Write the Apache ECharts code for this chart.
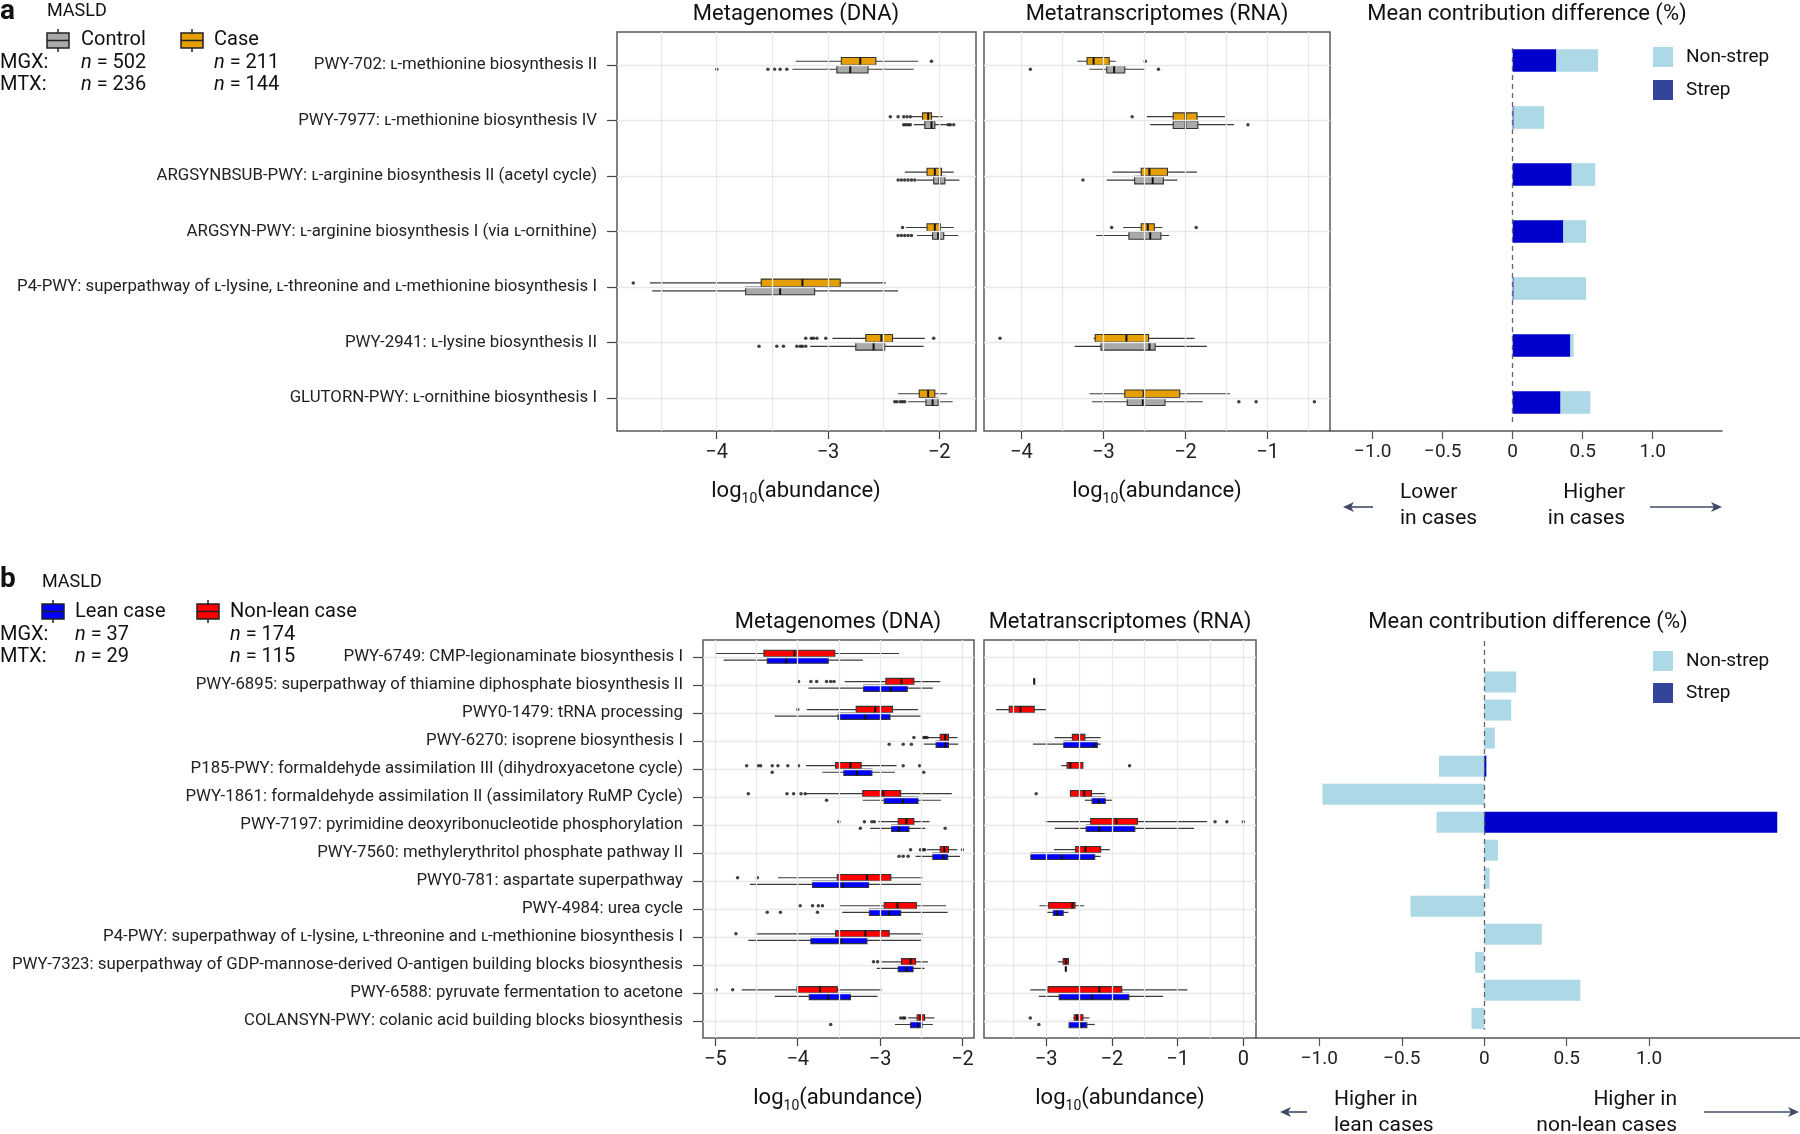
<!DOCTYPE html>
<html>
<head>
<meta charset="utf-8">
<script src="https://cdn.jsdelivr.net/npm/echarts@6/dist/echarts.min.js"></script>
<style>
  html, body { margin: 0; padding: 0; background: #fff; }
  #chart { width: 1800px; height: 1134px; }
</style>
</head>
<body>
<div id="chart"></div>
<script>
// ---- panel a : Control vs Case ----
var catA = [
  'PWY-702: L-methionine biosynthesis II',
  'PWY-7977: L-methionine biosynthesis IV',
  'ARGSYNBSUB-PWY: L-arginine biosynthesis II (acetyl cycle)',
  'ARGSYN-PWY: L-arginine biosynthesis I (via L-ornithine)',
  'P4-PWY: superpathway of L-lysine, L-threonine and L-methionine biosynthesis I',
  'PWY-2941: L-lysine biosynthesis II',
  'GLUTORN-PWY: L-ornithine biosynthesis I'
];
// [whisker low, Q1, median, Q3, whisker high] in log10(abundance)
var dnaCase = [
  [-3.29, -2.88, -2.71, -2.57, -2.19],
  [-2.25, -2.15, -2.10, -2.07, -1.97],
  [-2.31, -2.11, -2.04, -1.98, -1.87],
  [-2.30, -2.11, -2.04, -1.99, -1.87],
  [-4.60, -3.60, -3.23, -2.89, -2.48],
  [-2.96, -2.66, -2.52, -2.42, -2.13],
  [-2.37, -2.18, -2.10, -2.04, -1.93]
];
var dnaCaseOut = [
  [-2.07], [-2.44, -2.37, -2.32, -2.29, -2.26], [], [-2.33], [-4.75],
  [-3.20, -3.15, -3.13, -3.10, -3.02, -2.05], []
];
var dnaControl = [
  [-3.32, -2.92, -2.80, -2.64, -2.23],
  [-2.23, -2.13, -2.07, -2.04, -1.93],
  [-2.20, -2.05, -2.00, -1.95, -1.82],
  [-2.20, -2.06, -2.01, -1.96, -1.83],
  [-4.58, -3.74, -3.43, -3.12, -2.37],
  [-3.16, -2.75, -2.59, -2.49, -2.14],
  [-2.28, -2.12, -2.06, -2.01, -1.88]
];
var dnaControlOut = [
  [-4.00, -3.54, -3.48, -3.43, -3.37],
  [-2.32, -2.30, -2.28, -2.26, -1.92, -1.90, -1.87],
  [-2.37, -2.34, -2.31, -2.28, -2.25, -2.22],
  [-2.37, -2.34, -2.31, -2.28, -2.25],
  [],
  [-3.62, -3.46, -3.40, -3.28, -3.25, -3.23, -3.20],
  [-2.40, -2.38, -2.35, -2.33, -2.31]
];
var rnaCase = [
  [-3.32, -3.20, -3.12, -2.93, -2.85],
  [-2.47, -2.15, -2.00, -1.86, -1.52],
  [-2.89, -2.54, -2.44, -2.22, -1.86],
  [-2.76, -2.54, -2.46, -2.38, -2.28],
  null,
  [-3.12, -3.10, -2.72, -2.45, -1.89],
  [-3.17, -2.74, -2.51, -2.07, -1.46]
];
var rnaCaseOut = [[-2.49], [-2.65], [], [-2.90, -1.87], [], [-4.26], []];
var rnaControl = [
  [-3.17, -2.96, -2.87, -2.74, -2.49],
  [-2.43, -2.15, -2.00, -1.85, -1.41],
  [-2.96, -2.62, -2.40, -2.27, -2.10],
  [-3.09, -2.69, -2.43, -2.30, -2.20],
  null,
  [-3.35, -3.03, -2.44, -2.37, -1.74],
  [-3.14, -2.71, -2.52, -2.25, -1.79]
];
var rnaControlOut = [[-3.89, -2.33], [-1.24], [-3.25], [], [], [], [-1.35, -1.14, -0.43]];
// mean contribution difference (%)
var strepA = [0.31, 0.005, 0.42, 0.36, 0.005, 0.41, 0.34];
var nonStrepA = [0.30, 0.22, 0.17, 0.165, 0.52, 0.025, 0.215];

// ---- panel b : Lean vs Non-lean case ----
var catB = [
  'PWY-6749: CMP-legionaminate biosynthesis I',
  'PWY-6895: superpathway of thiamine diphosphate biosynthesis II',
  'PWY0-1479: tRNA processing',
  'PWY-6270: isoprene biosynthesis I',
  'P185-PWY: formaldehyde assimilation III (dihydroxyacetone cycle)',
  'PWY-1861: formaldehyde assimilation II (assimilatory RuMP Cycle)',
  'PWY-7197: pyrimidine deoxyribonucleotide phosphorylation',
  'PWY-7560: methylerythritol phosphate pathway II',
  'PWY0-781: aspartate superpathway',
  'PWY-4984: urea cycle',
  'P4-PWY: superpathway of L-lysine, L-threonine and L-methionine biosynthesis I',
  'PWY-7323: superpathway of GDP-mannose-derived O-antigen building blocks biosynthesis',
  'PWY-6588: pyruvate fermentation to acetone',
  'COLANSYN-PWY: colanic acid building blocks biosynthesis'
];
var dnaNonLean = [
  [-5.00, -4.41, -4.04, -3.55, -2.77],
  [-3.43, -2.93, -2.74, -2.59, -2.27],
  [-3.89, -3.29, -3.06, -2.85, -2.54],
  [-2.42, -2.27, -2.21, -2.17, -2.06],
  [-3.90, -3.54, -3.36, -3.23, -2.80],
  [-3.90, -3.21, -2.96, -2.75, -2.13],
  [-3.02, -2.78, -2.68, -2.59, -2.40],
  [-2.43, -2.27, -2.22, -2.17, -2.06],
  [-4.24, -3.52, -3.16, -2.87, -2.48],
  [-3.49, -2.95, -2.79, -2.56, -2.20],
  [-4.51, -3.54, -3.18, -2.89, -2.48],
  [-2.98, -2.74, -2.63, -2.57, -2.42],
  [-4.68, -4.01, -3.73, -3.52, -2.98],
  [-2.66, -2.55, -2.51, -2.46, -2.34]
];
var dnaNonLeanOut = [
  [], [-3.99, -3.84, -3.77, -3.65, -3.60, -3.56], [-4.00], [-2.59, -2.47, -2.45, -2.43],
  [-4.62, -4.48, -4.45, -4.31, -4.24, -4.12, -3.99, -2.72, -2.52],
  [-4.60, -4.13, -4.05, -3.96, -3.91], [-3.50, -3.19, -3.10, -3.07],
  [-2.63, -2.51, -2.48, -2.46, -2.00], [-4.73, -4.49], [-3.97, -3.82, -3.75, -3.70],
  [-4.75], [-3.08, -3.03], [-4.99, -4.79], [-2.75, -2.72, -2.70]
];
var dnaLean = [
  [-4.90, -4.37, -4.14, -3.63, -3.21],
  [-3.87, -3.20, -2.87, -2.67, -2.36],
  [-4.28, -3.51, -3.18, -2.88, -2.51],
  [-2.47, -2.32, -2.21, -2.17, -2.05],
  [-3.70, -3.44, -3.28, -3.10, -2.82],
  [-3.21, -2.95, -2.72, -2.54, -2.26],
  [-3.12, -2.86, -2.77, -2.65, -2.45],
  [-2.57, -2.36, -2.23, -2.18, -2.03],
  [-4.58, -3.82, -3.45, -3.14, -2.50],
  [-3.46, -3.13, -2.89, -2.75, -2.18],
  [-4.60, -3.84, -3.47, -3.16, -2.50],
  [-3.04, -2.78, -2.68, -2.60, -2.46],
  [-4.28, -3.86, -3.63, -3.36, -3.03],
  [-2.82, -2.63, -2.54, -2.49, -2.36]
];
var dnaLeanOut = [
  [], [], [], [-2.89, -2.72, -2.62], [-4.31, -2.47], [-3.65], [-3.24, -2.21],
  [-2.77, -2.72, -2.66], [], [-4.37, -4.21, -3.76], [], [], [], [-3.60]
];
var rnaNonLean = [
  null,
  [-3.18, -3.18, -3.18, -3.18, -3.18],
  [-3.76, -3.56, -3.39, -3.18, -3.00],
  [-2.87, -2.60, -2.50, -2.41, -2.17],
  [-2.77, -2.68, -2.63, -2.44, -2.44],
  [-2.63, -2.63, -2.42, -2.31, -2.11],
  [-3.01, -2.32, -1.93, -1.61, -0.55],
  [-2.88, -2.55, -2.40, -2.17, -2.03],
  null,
  [-3.10, -2.96, -2.60, -2.56, -2.42],
  null,
  [-2.82, -2.74, -2.70, -2.66, -2.66],
  [-3.24, -2.97, -2.19, -1.85, -0.85],
  [-2.59, -2.57, -2.53, -2.44, -2.34]
];
var rnaNonLeanOut = [[], [], [], [], [-1.73], [-3.15], [-0.43, -0.25, 0.0], [], [], [], [], [], [], [-3.24]];
var rnaLean = [
  null, null, null,
  [-3.20, -2.73, -2.27, -2.22, -2.17],
  null,
  [-2.41, -2.30, -2.20, -2.10, -1.99],
  [-2.87, -2.39, -2.19, -1.65, -0.75],
  [-3.24, -3.23, -2.76, -2.26, -2.17],
  null,
  [-2.98, -2.89, -2.83, -2.74, -2.66],
  null,
  [-2.70, -2.70, -2.70, -2.70, -2.70],
  [-3.11, -2.80, -2.30, -1.74, -1.22],
  [-2.65, -2.65, -2.46, -2.38, -2.26]
];
var rnaLeanOut = [[], [], [], [], [], [], [], [], [], [], [], [], [], [-3.11]];
var strepB = [0, 0, 0, 0, 0.013, 0, 1.777, 0, 0, 0, 0, 0, 0, 0];
var nonStrepB = [0, 0.194, 0.164, 0.064, -0.274, -0.981, -0.289, 0.083, 0.032, -0.447, 0.349, -0.055, 0.583, -0.077];

// axis ticks and grid lines
var ticksDnaA = [-4, -3, -2];
var ticksRnaA = [-4, -3, -2, -1];
var ticksDnaB = [-5, -4, -3, -2];
var ticksRnaB = [-3, -2, -1, 0];
var ticksBar = [-1, -0.5, 0, 0.5, 1];
var gridDnaA = [-4.5, -4, -3.5, -3, -2.5, -2];
var gridRnaA = [-4, -3.5, -3, -2.5, -2, -1.5, -1, -0.5];
var gridDnaB = [-5, -4.5, -4, -3.5, -3, -2.5, -2];
var gridRnaB = [-3.5, -3, -2.5, -2, -1.5, -1, -0.5, 0];

var FONT = 'Roboto, "Noto Sans", sans-serif';
var C_CONTROL = '#a9a9a9', C_CASE = '#e69f00', C_LEAN = '#0000ff', C_NONLEAN = '#ff0000';
var C_STREP = '#0000cd', C_STREP_KEY = '#33449a', C_NONSTREP = '#add8e6';

var rowsA = catA.map(function (d, i) { return i + 1; });
var rowsB = catB.map(function (d, i) { return i + 1; });

// L- prefix of amino acids is printed as a small capital
function fmtLabel(s) {
  return s.replace(/(^|[\s,(])L-/g, '$1\u029F-');
}
function minus(v) {
  return (v < 0 ? '\u2212' : '') + Math.abs(v);
}

var grids = [
  { left: 617, top: 32, width: 359, height: 399 },
  { left: 984, top: 32, width: 346, height: 399 },
  { left: 1330, top: 32, width: 392, height: 399 },
  { left: 703, top: 640, width: 271, height: 398 },
  { left: 984, top: 640, width: 272, height: 398 },
  { left: 1256, top: 640, width: 544, height: 398 }
];
grids.forEach(function (g, i) {
  g.show = (i % 3) !== 2;
  g.borderColor = '#5a5a5a';
  g.borderWidth = 1.5;
  g.backgroundColor = 'transparent';
});

function boxX(idx, min, max, ticks) {
  return {
    type: 'value', gridIndex: idx, min: min, max: max,
    axisLine: { show: false },
    splitLine: { show: false },
    axisTick: { show: true, customValues: ticks, length: 8, lineStyle: { color: '#444', width: 1.2 } },
    axisLabel: { customValues: ticks, formatter: minus, fontSize: 20, color: '#222', fontFamily: FONT, margin: 12 }
  };
}
function barX(idx, min, max) {
  return {
    type: 'value', gridIndex: idx, min: min, max: max,
    axisLine: { show: true, onZero: false, lineStyle: { color: '#555', width: 1.5 } },
    splitLine: { show: false },
    axisTick: { show: true, customValues: ticksBar, length: 8, lineStyle: { color: '#555', width: 1.2 } },
    axisLabel: {
      customValues: ticksBar, fontSize: 19, color: '#222', fontFamily: FONT, margin: 12,
      formatter: function (v) { return v === 0 ? '0' : (v < 0 ? '\u2212' : '') + Math.abs(v).toFixed(1); }
    }
  };
}
function plainY(idx, min, max) {
  return {
    type: 'value', gridIndex: idx, min: min, max: max, inverse: true,
    axisLine: { show: false }, axisTick: { show: false }, axisLabel: { show: false }, splitLine: { show: false }
  };
}
function labelY(idx, min, max, cats, rows) {
  return {
    type: 'value', gridIndex: idx, min: min, max: max, inverse: true,
    axisLine: { show: false }, splitLine: { show: false },
    axisTick: { show: true, customValues: rows, length: 10, lineStyle: { color: '#444', width: 1.2 } },
    axisLabel: {
      customValues: rows, margin: 20, fontSize: 16.8, color: '#222', fontFamily: FONT,
      formatter: function (v) { return fmtLabel(cats[v - 1]); }
    }
  };
}

function gridSeries(idx, xs, rows) {
  var lines = xs.map(function (v) { return { xAxis: v }; })
    .concat(rows.map(function (r) { return { yAxis: r }; }));
  return {
    type: 'scatter', xAxisIndex: idx, yAxisIndex: idx, data: [], silent: true, z: 1,
    markLine: {
      silent: true, symbol: ['none', 'none'], label: { show: false }, animation: false,
      lineStyle: { color: '#e8e8e8', width: 1.3, type: 'solid' },
      data: lines
    }
  };
}

function boxSeries(idx, stats, color, dy, hh) {
  var data = [];
  stats.forEach(function (d, i) { if (d) data.push([i + 1].concat(d)); });
  return {
    type: 'custom', xAxisIndex: idx, yAxisIndex: idx, z: 3, silent: true,
    data: data,
    encode: { x: [1, 2, 3, 4, 5], y: 0 },
    renderItem: function (params, api) {
      var row = api.value(0);
      var lo = api.coord([api.value(1), row]);
      var q1 = api.coord([api.value(2), row]);
      var md = api.coord([api.value(3), row]);
      var q3 = api.coord([api.value(4), row]);
      var hi = api.coord([api.value(5), row]);
      var y = lo[1] + dy;
      return {
        type: 'group',
        children: [
          { type: 'line', shape: { x1: lo[0], y1: y, x2: hi[0], y2: y }, style: { stroke: '#3a3a3a', lineWidth: 1.2 } },
          { type: 'rect', shape: { x: q1[0], y: y - hh, width: q3[0] - q1[0], height: 2 * hh },
            style: { fill: color, stroke: '#333', lineWidth: 1.1 } },
          { type: 'line', shape: { x1: md[0], y1: y - hh, x2: md[0], y2: y + hh }, style: { stroke: '#111', lineWidth: 2 } }
        ]
      };
    }
  };
}

function outSeries(idx, outs, dy) {
  var data = [];
  outs.forEach(function (list, i) {
    list.forEach(function (v) { data.push([v, i + 1]); });
  });
  return {
    type: 'scatter', xAxisIndex: idx, yAxisIndex: idx, z: 4, silent: true,
    symbolSize: 3.5, symbolOffset: [0, dy],
    itemStyle: { color: '#111' },
    data: data
  };
}

function barSeries(idx, strep, nonStrep, h, zeroLine) {
  var data = strep.map(function (s, i) { return [i + 1, s, nonStrep[i]]; });
  return {
    type: 'custom', xAxisIndex: idx, yAxisIndex: idx, z: 3, silent: true,
    data: data,
    encode: { x: [1, 2], y: 0 },
    renderItem: function (params, api) {
      var row = api.value(0), s = api.value(1), n = api.value(2);
      var base = (s * n > 0) ? s : 0;
      function rect(a, b, color) {
        var p0 = api.coord([a, row]), p1 = api.coord([b, row]);
        return {
          type: 'rect',
          shape: { x: Math.min(p0[0], p1[0]), y: p0[1] - h / 2, width: Math.abs(p1[0] - p0[0]), height: h },
          style: { fill: color }
        };
      }
      return { type: 'group', children: [rect(base, base + n, C_NONSTREP), rect(0, s, C_STREP)] };
    },
    markLine: {
      silent: true, symbol: ['none', 'none'], label: { show: false }, animation: false, z: 5,
      lineStyle: { color: '#666', width: 1.3, type: [5, 4] },
      data: [[{ coord: [0, zeroLine[0]] }, { coord: [0, zeroLine[1]] }]]
    }
  };
}

// ---- graphics helpers ----
function txt(x, y, text, size, extra) {
  var st = { text: text, fontSize: size, fontFamily: FONT, fill: '#111', align: 'left', verticalAlign: 'middle' };
  for (var k in extra) st[k] = extra[k];
  return { type: 'text', x: x, y: y, silent: true, style: st };
}
var richN = { i: { fontStyle: 'italic', fontSize: 20, fontFamily: FONT, fill: '#111' } };
function nTxt(x, y, n) {
  return txt(x, y, '{i|n} = ' + n, 20, { rich: richN });
}
var richLog = { s: { fontSize: 14, fontFamily: FONT, fill: '#111', lineHeight: 14, verticalAlign: 'bottom' } };
function logTitle(x, y) {
  return txt(x, y, 'log{s|10}(abundance)', 22, { align: 'center', lineHeight: 30, rich: richLog });
}
function boxIcon(x, yc, color) {
  return {
    type: 'group', silent: true,
    children: [
      { type: 'line', shape: { x1: x + 11, y1: yc - 11.5, x2: x + 11, y2: yc + 11.5 }, style: { stroke: '#222', lineWidth: 1.5 } },
      { type: 'rect', shape: { x: x, y: yc - 7.5, width: 22, height: 15 }, style: { fill: color, stroke: '#222', lineWidth: 1.5 } },
      { type: 'line', shape: { x1: x, y1: yc, x2: x + 22, y2: yc }, style: { stroke: '#222', lineWidth: 1.5 } }
    ]
  };
}
function arrow(x1, x2, y) {
  var d = x2 > x1 ? 1 : -1;
  return {
    type: 'group', silent: true,
    children: [
      { type: 'line', shape: { x1: x1, y1: y, x2: x2 - d * 4, y2: y }, style: { stroke: '#3f4b66', lineWidth: 1.6 } },
      { type: 'polygon', shape: { points: [[x2, y], [x2 - d * 11, y - 5], [x2 - d * 8, y], [x2 - d * 11, y + 5]] },
        style: { fill: '#3f4b66' } }
    ]
  };
}
function keySquare(x, y, color) {
  return { type: 'rect', silent: true, shape: { x: x, y: y, width: 20, height: 20 }, style: { fill: color } };
}

var graphics = [
  // panel a header / legend
  txt(0, 12, 'a', 28, { fontWeight: 'bold' }),
  txt(47, 11, 'MASLD', 18),
  boxIcon(47, 40.5, C_CONTROL), txt(81, 40, 'Control', 20),
  boxIcon(181, 40.5, C_CASE), txt(214, 40, 'Case', 20),
  txt(0, 63, 'MGX:', 20), nTxt(81, 63, 502), nTxt(214, 63, 211),
  txt(0, 85, 'MTX:', 20), nTxt(81, 85, 236), nTxt(214, 85, 144),
  txt(796, 14, 'Metagenomes (DNA)', 22, { align: 'center' }),
  txt(1157, 14, 'Metatranscriptomes (RNA)', 22, { align: 'center' }),
  txt(1527, 14, 'Mean contribution difference (%)', 22, { align: 'center' }),
  logTitle(796, 491), logTitle(1157, 491),
  keySquare(1653, 47, C_NONSTREP), txt(1686, 57, 'Non-strep', 19),
  keySquare(1653, 80, C_STREP_KEY), txt(1686, 90, 'Strep', 19),
  txt(1400, 493, 'Lower', 21), txt(1400, 519, 'in cases', 21),
  txt(1625, 493, 'Higher', 21, { align: 'right' }), txt(1625, 519, 'in cases', 21, { align: 'right' }),
  arrow(1373, 1343, 507), arrow(1650, 1722, 507),

  // panel b header / legend
  txt(0, 580, 'b', 28, { fontWeight: 'bold' }),
  txt(42, 582, 'MASLD', 18),
  boxIcon(42, 611.5, C_LEAN), txt(75, 612, 'Lean case', 20),
  boxIcon(197, 611.5, C_NONLEAN), txt(230, 612, 'Non-lean case', 20),
  txt(0, 635, 'MGX:', 20), nTxt(75, 635, 37), nTxt(230, 635, 174),
  txt(0, 657, 'MTX:', 20), nTxt(75, 657, 29), nTxt(230, 657, 115),
  txt(838, 622, 'Metagenomes (DNA)', 22, { align: 'center' }),
  txt(1120, 622, 'Metatranscriptomes (RNA)', 22, { align: 'center' }),
  txt(1528, 622, 'Mean contribution difference (%)', 22, { align: 'center' }),
  logTitle(838, 1098), logTitle(1120, 1098),
  keySquare(1653, 651, C_NONSTREP), txt(1686, 661, 'Non-strep', 19),
  keySquare(1653, 683, C_STREP_KEY), txt(1686, 693, 'Strep', 19),
  txt(1334, 1100, 'Higher in', 21), txt(1334, 1126, 'lean cases', 21),
  txt(1677, 1100, 'Higher in', 21, { align: 'right' }), txt(1677, 1126, 'non-lean cases', 21, { align: 'right' }),
  arrow(1307, 1280, 1112), arrow(1704, 1799, 1112)
];

var option = {
  animation: false,
  backgroundColor: '#fff',
  grid: grids,
  xAxis: [
    boxX(0, -4.896, -1.67, ticksDnaA),
    boxX(1, -4.455, -0.24, ticksRnaA),
    barX(2, -1.305, 1.495),
    boxX(3, -5.15, -1.86, ticksDnaB),
    boxX(4, -3.944, 0.193, ticksRnaB),
    barX(5, -1.384, 1.915)
  ],
  yAxis: [
    labelY(0, 0.4, 7.6, catA, rowsA),
    plainY(1, 0.4, 7.6),
    plainY(2, 0.5, 7.5),
    labelY(3, 0.4, 14.6, catB, rowsB),
    plainY(4, 0.4, 14.6),
    plainY(5, 0.5, 14.7)
  ],
  series: [
    gridSeries(0, gridDnaA, rowsA),
    gridSeries(1, gridRnaA, rowsA),
    gridSeries(3, gridDnaB, rowsB),
    gridSeries(4, gridRnaB, rowsB),

    boxSeries(0, dnaCase, C_CASE, -4, 3.8),
    boxSeries(0, dnaControl, C_CONTROL, 4, 3.8),
    outSeries(0, dnaCaseOut, -4),
    outSeries(0, dnaControlOut, 4),
    boxSeries(1, rnaCase, C_CASE, -4, 3.8),
    boxSeries(1, rnaControl, C_CONTROL, 4, 3.8),
    outSeries(1, rnaCaseOut, -4),
    outSeries(1, rnaControlOut, 4),
    barSeries(2, strepA, nonStrepA, 22.6, [0.78, 7.37]),

    boxSeries(3, dnaNonLean, C_NONLEAN, -3.3, 3.2),
    boxSeries(3, dnaLean, C_LEAN, 3.3, 3.2),
    outSeries(3, dnaNonLeanOut, -3.3),
    outSeries(3, dnaLeanOut, 3.3),
    boxSeries(4, rnaNonLean, C_NONLEAN, -3.3, 3.2),
    boxSeries(4, rnaLean, C_LEAN, 3.3, 3.2),
    outSeries(4, rnaNonLeanOut, -3.3),
    outSeries(4, rnaLeanOut, 3.3),
    barSeries(5, strepB, nonStrepB, 21, [0.54, 14.41])
  ],
  graphic: graphics
};

var chart = echarts.init(document.getElementById('chart'));
chart.setOption(option);
</script>
</body>
</html>
